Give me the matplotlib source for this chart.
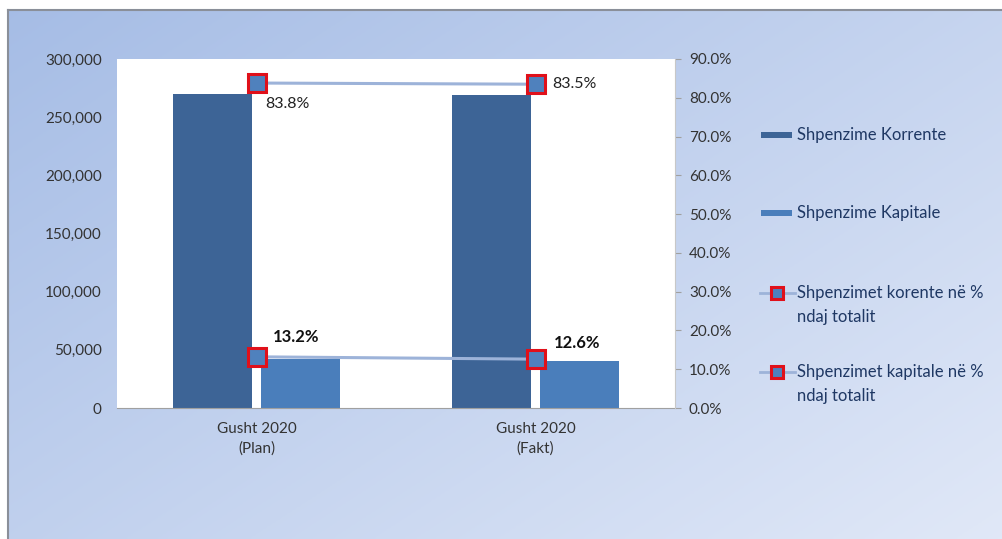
import numpy as np
import matplotlib
matplotlib.use("Agg")
import matplotlib.pyplot as plt
from matplotlib.lines import Line2D
from matplotlib.patches import Rectangle
from matplotlib.ticker import FuncFormatter, MultipleLocator

plt.rcParams["font.family"] = ["Lato", "DejaVu Sans"]

categories = ["Gusht 2020\n(Plan)", "Gusht 2020\n(Fakt)"]
korrente = [270000, 269000]
kapitale = [42500, 40600]
pct_korrente = [83.8, 83.5]
pct_kapitale = [13.2, 12.6]

dark_blue = "#3D6496"
mid_blue = "#4A7EBB"
line_col = "#9DB3D9"
red = "#E0101A"
text_col = "#1F3864"

W, H = 1003, 539
fig = plt.figure(figsize=(W / 100, H / 100), dpi=100)
fig.patch.set_facecolor("white")


def fx(px):
    return px / W


def fy(py):
    return 1 - py / H


# gradient panel behind the chart
bg = fig.add_axes([fx(8), 0, 1 - fx(8), fy(10)], zorder=-10)
gx, gy = np.meshgrid(np.linspace(0, 1, 200), np.linspace(0, 1, 200))
t = np.clip(0.55 * gx + 0.45 * gy, 0, 1)
c0 = np.array([0.65, 0.74, 0.90])
c1 = np.array([0.88, 0.91, 0.97])
img = c0[None, None, :] * (1 - t[..., None]) + c1[None, None, :] * t[..., None]
bg.imshow(img, aspect="auto", extent=[0, 1, 0, 1], origin="upper")
bg.set_xlim(0, 1)
bg.set_ylim(0, 1)
bg.set_xticks([])
bg.set_yticks([])
for s in ["right", "bottom"]:
    bg.spines[s].set_visible(False)
for s in ["left", "top"]:
    bg.spines[s].set_color("#8A8F99")
    bg.spines[s].set_linewidth(1.5)

ax = fig.add_axes([fx(117), fy(408), fx(558), 349 / H])
ax.set_facecolor("white")
x = np.arange(len(categories))
w = 0.283
off = 0.158
ax.bar(x - off, korrente, w, color=dark_blue, zorder=2)
ax.bar(x + off, kapitale, w, color=mid_blue, zorder=2)
ax.set_xlim(-0.5, 1.5)
ax.set_ylim(0, 300000)
ax.yaxis.set_major_locator(MultipleLocator(50000))
ax.yaxis.set_major_formatter(FuncFormatter(lambda v, p: f"{int(v):,}"))
ax.set_xticks(x)
ax.set_xticklabels(categories, linespacing=1.45)
ax.tick_params(axis="y", length=0, pad=11, labelsize=11, labelcolor="#333333")
ax.tick_params(axis="x", length=0, pad=10, labelsize=11, labelcolor="#333333")
for s in ["top", "left", "right"]:
    ax.spines[s].set_visible(False)
ax.spines["bottom"].set_color("#A0A0A0")

ax2 = ax.twinx()
ax2.set_ylim(0, 90)
ax2.yaxis.set_major_locator(MultipleLocator(10))
ax2.yaxis.set_major_formatter(FuncFormatter(lambda v, p: f"{v:.1f}%"))
ax2.tick_params(axis="y", length=4, color="#A0A0A0", pad=6, labelsize=11,
                labelcolor="#333333")
for s in ["top", "left", "bottom"]:
    ax2.spines[s].set_visible(False)
ax2.spines["right"].set_color("#C8C8C8")

mk = dict(marker="s", markersize=13, markerfacecolor="#4F81BD",
          markeredgecolor=red, markeredgewidth=2.2)
ax2.plot(x, pct_korrente, color=line_col, lw=2.2, zorder=3, **mk)
ax2.plot(x, pct_kapitale, color=line_col, lw=2.2, zorder=3, **mk)

# value labels
ax2.annotate(f"{pct_korrente[0]}%", (x[0], pct_korrente[0]), xytext=(6.5, -15),
             textcoords="offset points", ha="left", va="center", fontsize=11.5,
             color="#222222")
ax2.annotate(f"{pct_korrente[1]}%", (x[1], pct_korrente[1]), xytext=(12, 0),
             textcoords="offset points", ha="left", va="center", fontsize=11.5,
             color="#222222")
ax2.annotate(f"{pct_kapitale[0]}%", (x[0], pct_kapitale[0]), xytext=(11.5, 14.5),
             textcoords="offset points", ha="left", va="center", fontsize=12,
             fontweight="bold", color="#111111")
ax2.annotate(f"{pct_kapitale[1]}%", (x[1], pct_kapitale[1]), xytext=(13, 11.5),
             textcoords="offset points", ha="left", va="center", fontsize=12,
             fontweight="bold", color="#111111")

# legend, drawn by hand so the markers line up with the first text line
leg_labels = ["Shpenzime Korrente", "Shpenzime Kapitale",
              "Shpenzimet korente në %\nndaj totalit",
              "Shpenzimet kapitale në %\nndaj totalit"]
leg_rows = [135, 213, 293, 372]
for i, (lab, row) in enumerate(zip(leg_labels, leg_rows)):
    if i < 2:
        fig.patches.append(Rectangle((fx(761), fy(row + 3)), fx(31), 6 / H,
                                     facecolor=[dark_blue, mid_blue][i],
                                     transform=fig.transFigure))
    else:
        fig.lines.append(Line2D([fx(760), fx(795)], [fy(row), fy(row)],
                                color=line_col, lw=2,
                                transform=fig.transFigure))
        fig.lines.append(Line2D([fx(777)], [fy(row)], marker="s",
                                markersize=9, markerfacecolor="#4F81BD",
                                markeredgecolor=red, markeredgewidth=2.2,
                                transform=fig.transFigure))
    first, _, rest = lab.partition("\n")
    fig.text(fx(797), fy(row), first, ha="left", va="center", fontsize=12,
             color=text_col)
    if rest:
        fig.text(fx(797), fy(row + 24), rest, ha="left", va="center",
                 fontsize=12, color=text_col)

fig.savefig("out.png", dpi=100)
